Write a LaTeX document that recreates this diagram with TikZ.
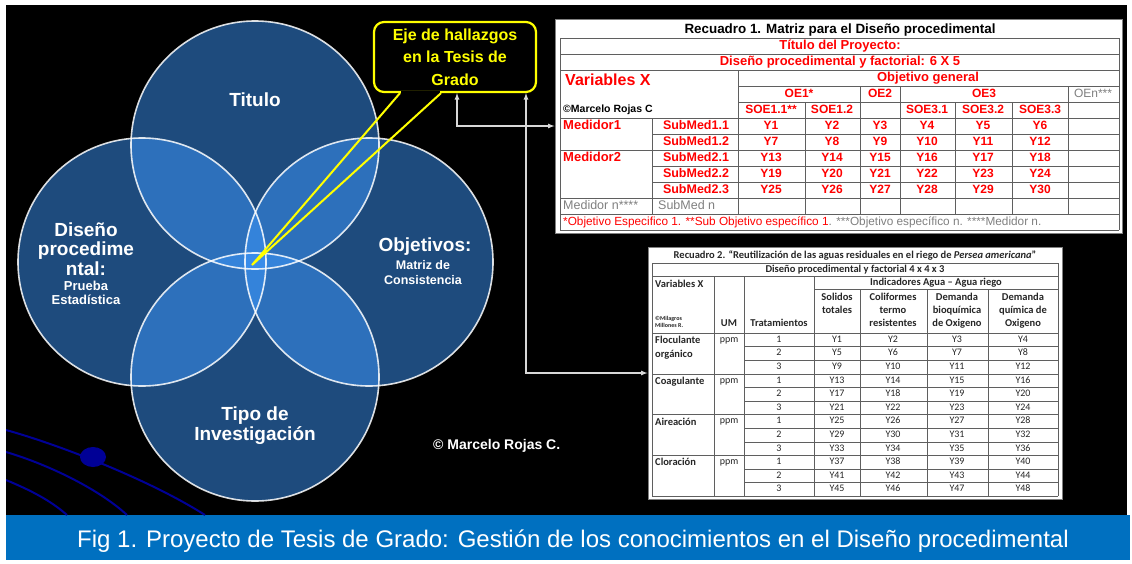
\documentclass[tikz,border=0pt]{standalone}
\usepackage{fontspec}
\setmainfont{Liberation Sans}
\newfontfamily\calibri{Carlito}
\usetikzlibrary{positioning}

\definecolor{vennblue}{RGB}{60,150,250}
\definecolor{barblue}{RGB}{0,112,192}
\definecolor{orbitblue}{RGB}{0,0,150}
\definecolor{gridgray}{RGB}{95,95,95}
\definecolor{notegray}{RGB}{128,128,128}
\definecolor{hiyellow}{RGB}{255,255,0}
\definecolor{linkgray}{RGB}{215,215,215}

\begin{document}
\begin{tikzpicture}[x=1pt, y=-1pt, >=latex, inner sep=0pt]
    \tikzstyle{venn} = [circle, minimum size=248pt, fill=vennblue, fill opacity=0.5]
    \tikzstyle{ring} = [draw=white, line width=1.6pt, draw opacity=0.85]
    \tikzstyle{vennlabel} = [text=white, align=center, font=\bfseries\fontsize{19}{19.5}\selectfont]
    \tikzstyle{vennsub} = [text=white, align=center, font=\bfseries\fontsize{13}{13.5}\selectfont]
    \tikzstyle{link} = [<->, draw=linkgray, line width=1.2pt]
    \tikzstyle{rline} = [draw=gridgray, line width=0.8pt]
    \tikzstyle{tline} = [draw=gridgray, line width=0.6pt]
    \tikzstyle{red1} = [text=red, font=\bfseries\fontsize{12}{12}\selectfont, text height=9pt, text depth=2.5pt]
    \tikzstyle{cal} = [text=black!85, font=\calibri\fontsize{10}{10}\selectfont, text height=7pt, text depth=2pt]
    \tikzstyle{calb} = [text=black!85, font=\calibri\bfseries\fontsize{10.5}{13}\selectfont]

    \useasboundingbox (0,0) rectangle (1132,563);
    % page, black field and caption bar
    \fill[white] (0,0) rectangle (1132,563);
    \fill[black] (6,5) rectangle (1127,515);
    \fill[barblue] (6,515) rectangle (1130,560);

    % orbit lines bottom left
    \begin{scope}
        \clip (6,5) rectangle (1127,515);
        \draw[orbitblue, line width=2pt] (6,430) .. controls (60,445) and (150,480) .. (205,515);
        \draw[orbitblue, line width=2pt] (6,452) .. controls (50,465) and (100,490) .. (127,515);
        \draw[orbitblue, line width=2pt] (6,480) .. controls (30,490) and (50,500) .. (67,515);
        \fill[orbitblue] (93,457) ellipse (13 and 10);
    \end{scope}

    % Venn circles
    \node[venn] (titulo) at (255,145) {};
    \node[venn] (diseno) at (142,262) {};
    \node[venn] (objetivos) at (369,262) {};
    \node[venn] (tipo) at (255,377) {};
    \foreach \c in {titulo,diseno,objetivos,tipo}
        \draw[ring] (\c.center) circle (124pt);

    % Venn labels
    \node[vennlabel] (titulolbl) at (255,100) {Titulo};
    \node[vennlabel] (disenolbl) at (86,249) {Diseño\\procedime\\ntal:};
    \node[vennsub] (pruebalbl) at (86,293) {Prueba\\Estadística};
    \node[vennlabel] (objlbl) at (425,247) {Objetivos:};
    \node[vennsub, font=\bfseries\fontsize{12.5}{15}\selectfont] (matrizlbl) at (423,272.5) {Matriz de\\Consistencia};
    \node[vennlabel] (tipolbl) at (255,425.5) {Tipo de\\Investigación};
    \node[anchor=west, text=white, font=\bfseries\fontsize{14}{14}\selectfont] (copy) at (433,446) {© Marcelo Rojas C.};

    % callout
    \coordinate (hub) at (252,265);
    \node[draw=hiyellow, line width=2.2pt, rounded corners=10pt, fill=black, minimum width=162pt, minimum height=70pt,
          text=hiyellow, align=center, font=\bfseries\fontsize{16}{22.5}\selectfont] (callout) at (455,57)
          {Eje de hallazgos\\en la Tesis de\\Grado};
    \fill[black] ([xshift=-54pt,yshift=2pt]callout.south) rectangle ([xshift=-15pt,yshift=-2pt]callout.south);
    \draw[hiyellow, line width=2pt] ([xshift=-55pt]callout.south) -- (hub) -- ([xshift=-14pt]callout.south);

    % Recuadro 1
    \node[draw=gray, fill=white, line width=1pt, minimum width=567pt, minimum height=214pt] (rec1) at (838.5,126) {};
    \foreach \y in {38,54,70,118,150,198,214,230} \draw[rline] (560,\y) -- (1119,\y);
    \foreach \y in {86,102} \draw[rline] (738,\y) -- (1119,\y);
    \foreach \y in {134,166,182} \draw[rline] (652,\y) -- (1119,\y);
    \foreach \x in {560,1119} \draw[rline] (\x,38) -- (\x,230);
    \draw[rline] (738,70) -- (738,214);
    \draw[rline] (652,118) -- (652,214);
    \foreach \x in {860,900,1068} \draw[rline] (\x,86) -- (\x,214);
    \foreach \x in {805,955,1012} \draw[rline] (\x,102) -- (\x,214);

    \node[font=\bfseries\fontsize{13.4}{13.4}\selectfont] (rec1title) at (840,30) {Recuadro 1. Matriz para el Diseño procedimental};
    \node[red1, font=\bfseries\fontsize{13}{13}\selectfont] (proyecto) at (840,46) {Título del Proyecto:};
    \node[red1, font=\bfseries\fontsize{13}{13}\selectfont] (factorial) at (840,62) {Diseño procedimental y factorial: 6 X 5};
    \node[red1, anchor=west, font=\bfseries\fontsize{16}{16}\selectfont] (varx) at (565,82) {Variables X};
    \node[red1, font=\bfseries\fontsize{13}{13}\selectfont] (objgen) at (928,78) {Objetivo general};
    \node[red1] (oe1) at (799,94) {OE1*};
    \node[red1] (oe2) at (880,94) {OE2};
    \node[red1] (oe3) at (984,94) {OE3};
    \node[red1, text=notegray, font=\fontsize{12}{12}\selectfont] (oen) at (1093,94) {OEn***};
    \node[anchor=west, font=\bfseries\fontsize{10.5}{10.5}\selectfont] (autor1) at (563,110) {©Marcelo Rojas C};
    \foreach \x/\t/\n in {771/SOE1.1**/soe11, 832/SOE1.2/soe12, 927/SOE3.1/soe31, 983/SOE3.2/soe32, 1040/SOE3.3/soe33}
        \node[red1] (\n) at (\x,110) {\t};
    \node[red1, anchor=west, font=\bfseries\fontsize{13}{13}\selectfont] (med1) at (563,126) {Medidor1};
    \node[red1, anchor=west, font=\bfseries\fontsize{13}{13}\selectfont] (med2) at (563,158) {Medidor2};
    \foreach \y/\t/\n in {126/1.1/sm11, 142/1.2/sm12, 158/2.1/sm21, 174/2.2/sm22, 190/2.3/sm23}
        \node[red1, font=\bfseries\fontsize{12.5}{12.5}\selectfont] (\n) at (696,\y) {SubMed\t};
    \foreach \y [count=\r from 0] in {126,142,158,174,190} {
        \foreach \x [count=\c] in {771,832,880,927,983,1040} {
            \pgfmathtruncatemacro{\k}{6*\r+\c}
            \node[red1] (y\k) at (\x,\y) {Y\k};
        }
    }
    \node[red1, anchor=west, text=notegray, font=\fontsize{12.5}{12.5}\selectfont] (medn) at (563,206) {Medidor n****};
    \node[red1, anchor=west, text=notegray, font=\fontsize{12.5}{12.5}\selectfont] (submedn) at (658,206) {SubMed n};
    \node[red1, anchor=west, font=\fontsize{11.8}{11.8}\selectfont] (nota1) at (563,222)
        {*Objetivo Especifico 1. **Sub Objetivo específico 1\textcolor{notegray}{. ***Objetivo específico n. ****Medidor n.}};

    % Recuadro 2
    \node[draw=gray, fill=white, line width=1pt, minimum width=414pt, minimum height=252pt] (rec2) at (855,373) {};
    \foreach \y in {263,276,333,373.8,414.6,455.4,496.2} \draw[tline] (652,\y) -- (1058,\y);
    \draw[tline] (814,289) -- (1058,289);
    \foreach \k in {1,2,4,5,7,8,10,11} \draw[tline] (744,{333+13.6*\k}) -- (1058,{333+13.6*\k});
    \foreach \x in {652,1058} \draw[tline] (\x,263) -- (\x,496.2);
    \foreach \x in {714,744,814} \draw[tline] (\x,276) -- (\x,496.2);
    \foreach \x in {860,927,988} \draw[tline] (\x,289) -- (\x,496.2);

    \node[calb] (rec2title) at (855,256) {Recuadro 2. “Reutilización de las aguas residuales en el riego de \textit{Persea americana}”};
    \node[calb] (dis2) at (855,270) {Diseño procedimental y factorial 4 x 4 x 3};
    \node[calb, anchor=west] (varx2) at (655,284) {Variables X};
    \node[calb, anchor=west, align=left, font=\calibri\bfseries\fontsize{6}{7.5}\selectfont] (autor2) at (655,322) {©Milagros\\Millones R.};
    \node[calb] (um) at (729,323) {UM};
    \node[calb] (trat) at (779,323) {Tratamientos};
    \node[calb] (indic) at (936,283) {Indicadores Agua – Agua riego};
    \node[calb, anchor=north, align=center] (sol) at (837,292.5) {Solidos\\totales};
    \node[calb, anchor=north, align=center] (coli) at (893,292.5) {Coliformes\\termo\\resistentes};
    \node[calb, anchor=north, align=center] (dbo) at (957,292.5) {Demanda\\bioquímica\\de Oxigeno};
    \node[calb, anchor=north, align=center] (dqo) at (1023,292.5) {Demanda\\química de\\Oxigeno};

    \node[calb, anchor=north west, align=left, font=\calibri\bfseries\fontsize{10.5}{13.6}\selectfont] (floc) at (655,336) {Floculante\\orgánico};
    \node[calb, anchor=north west] (coag) at (655,376.8) {Coagulante};
    \node[calb, anchor=north west] (aire) at (655,417.6) {Aireación};
    \node[calb, anchor=north west] (clor) at (655,458.4) {Cloración};
    \foreach \g in {0,1,2,3} {
        \node[cal] (ppm\g) at (729,{339.8+40.8*\g}) {ppm};
        \foreach \j in {1,2,3} {
            \pgfmathsetmacro{\yy}{333+40.8*\g+13.6*\j-6.8}
            \node[cal] (t\g\j) at (779,\yy) {\j};
            \foreach \x [count=\c] in {837,893,957,1023} {
                \pgfmathtruncatemacro{\k}{12*\g+4*(\j-1)+\c}
                \node[cal] (v\k) at (\x,\yy) {Y\k};
            }
        }
    }

    % connectors
    \draw[link] ([xshift=2pt]callout.south) |- (rec1.west);
    \draw[link] ([xshift=71pt]callout.south) |- (rec2.west);

    % caption
    \node[text=white, font=\fontsize{24}{24}\selectfont] (caption) at (573,541)
        {Fig 1. Proyecto de Tesis de Grado: Gestión de los conocimientos en el Diseño procedimental};
\end{tikzpicture}
\end{document}
